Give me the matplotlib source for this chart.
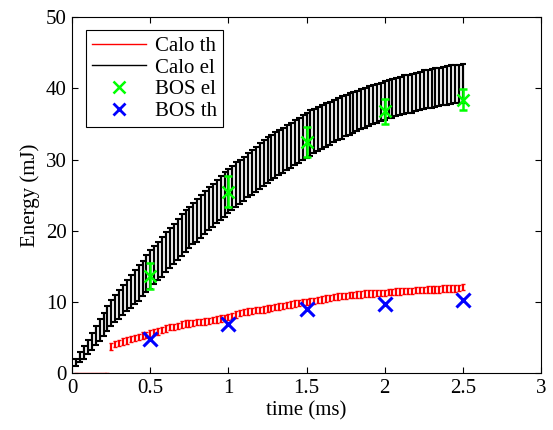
import numpy as np
import matplotlib
matplotlib.use("Agg")
import matplotlib.pyplot as plt
from matplotlib.lines import Line2D

plt.rcParams['font.family'] = ['Liberation Serif', 'DejaVu Serif']

# time grid of the calorimeter signals (ms), one sample every 0.025 ms
t_calo = np.round(np.arange(1, 101) * 0.025, 3)

# Calo el: centre values and half error (mJ)
calo_el = [1.6, 2.3, 3.0, 3.7, 4.5, 5.3, 6.1, 6.9, 7.7, 8.5,
           9.1, 9.7, 10.3, 10.9, 11.5, 12.1, 12.7, 13.3, 14.0, 14.6,
           15.2, 15.8, 16.4, 17.0, 17.6, 18.2, 18.8, 19.4, 20.0, 20.5,
           21.0, 21.5, 22.0, 22.6, 23.1, 23.6, 24.1, 24.6, 25.1, 25.6,
           26.0, 26.5, 26.9, 27.3, 27.8, 28.2, 28.6, 29.1, 29.5, 29.9,
           30.3, 30.6, 31.0, 31.3, 31.7, 32.0, 32.4, 32.7, 33.1, 33.4,
           33.7, 34.0, 34.3, 34.6, 34.9, 35.1, 35.4, 35.7, 35.9, 36.2,
           36.4, 36.6, 36.8, 37.1, 37.3, 37.5, 37.7, 37.9, 38.1, 38.3,
           38.5, 38.6, 38.8, 38.9, 39.1, 39.2, 39.3, 39.5, 39.6, 39.8,
           39.9, 40.0, 40.1, 40.2, 40.3, 40.4, 40.5, 40.6, 40.6, 40.7]
calo_el_err = [0.5, 0.7, 0.9, 1.0, 1.2, 1.3, 1.5, 1.6, 1.7, 1.8,
               1.9, 2.0, 2.1, 2.2, 2.3, 2.4, 2.5, 2.5, 2.6, 2.7,
               2.7, 2.7, 2.8, 2.8, 2.8, 2.8, 2.9, 2.9, 2.9, 2.9,
               2.9, 3.0, 3.0, 3.0, 3.0, 3.0, 3.0, 3.1, 3.1, 3.1,
               3.1, 3.1, 3.1, 3.1, 3.1, 3.1, 3.2, 3.2, 3.2, 3.2,
               3.2, 3.2, 3.2, 3.2, 3.2, 3.2, 3.2, 3.2, 3.2, 3.2,
               3.2, 3.1, 3.1, 3.1, 3.1, 3.0, 3.0, 3.0, 3.0, 2.9,
               2.9, 2.9, 2.8, 2.8, 2.8, 2.8, 2.7, 2.7, 2.7, 2.7,
               2.7, 2.7, 2.7, 2.7, 2.7, 2.7, 2.7, 2.7, 2.7, 2.7,
               2.7, 2.7, 2.7, 2.7, 2.7, 2.7, 2.7, 2.7, 2.7, 2.7]

# Calo th: centre values (mJ), flat at zero before 0.25 ms
calo_th = [0.0, 0.0, 0.0, 0.0, 0.0, 0.0, 0.0, 0.0, 0.0, 3.8,
           4.1, 4.3, 4.5, 4.6, 4.8, 5.0, 5.1, 5.3, 5.4, 5.6,
           5.8, 5.9, 6.1, 6.3, 6.5, 6.5, 6.7, 6.9, 7.0, 7.0,
           7.1, 7.2, 7.2, 7.3, 7.4, 7.5, 7.6, 7.7, 7.8, 7.9,
           8.1, 8.3, 8.5, 8.6, 8.7, 8.8, 8.9, 8.9, 9.0, 9.1,
           9.2, 9.3, 9.4, 9.5, 9.6, 9.7, 9.8, 9.9, 10.0, 10.0,
           10.1, 10.2, 10.3, 10.4, 10.5, 10.6, 10.7, 10.8, 10.9, 10.9,
           11.0, 11.0, 11.1, 11.1, 11.2, 11.2, 11.2, 11.3, 11.3, 11.3,
           11.4, 11.4, 11.5, 11.5, 11.6, 11.6, 11.6, 11.7, 11.7, 11.7,
           11.8, 11.8, 11.8, 11.8, 11.9, 11.9, 11.9, 11.9, 12.0, 12.1]
calo_th_err = [0.1] * 9 + [0.45] * 91

# BOS measurements
t_bos = [0.5, 1.0, 1.5, 2.0, 2.5]
bos_el = [13.7, 25.5, 32.5, 36.8, 38.4]
bos_el_err = [1.8, 2.2, 2.1, 1.75, 1.5]
bos_th = [4.9, 7.0, 9.1, 9.7, 10.3]

fig = plt.figure(figsize=(5.53, 4.30), dpi=100)
ax = fig.add_axes([0.1307, 0.1314, 0.8473, 0.8291])

ax.errorbar(t_calo, calo_el, yerr=calo_el_err, fmt='none', ecolor='black',
            elinewidth=1.6, capsize=2.0, capthick=1.5)
ax.errorbar(t_calo, calo_th, yerr=calo_th_err, fmt='none', ecolor='red',
            elinewidth=1.6, capsize=1.2, capthick=1.0)
ax.errorbar(t_bos, bos_el, yerr=bos_el_err, fmt='x', color='#00ff00',
            ecolor='#00ff00', markersize=9, markeredgewidth=1.8,
            elinewidth=1.8, capsize=2.8, capthick=1.8)
ax.plot(t_bos, bos_th, 'x', color='blue', markersize=10, markeredgewidth=2.2)

ax.set_xlim(0, 3)
ax.set_ylim(0, 50)
ax.set_xticks([0, 0.5, 1, 1.5, 2, 2.5, 3])
ax.set_xticklabels(['0', '0.5', '1', '1.5', '2', '2.5', '3'])
ax.set_yticks([0, 10, 20, 30, 40, 50])
ax.tick_params(direction='in', top=True, right=True, length=4, width=0.8,
               labelsize=15, pad=4)
for s in ax.spines.values():
    s.set_linewidth(0.8)
ax.set_xlabel('time (ms)', fontsize=15, labelpad=2)
ax.set_ylabel('Energy (mJ)', fontsize=15, labelpad=4)

handles = [Line2D([], [], color='red', lw=1.0),
           Line2D([], [], color='black', lw=1.0),
           Line2D([], [], ls='none', marker='x', color='#00ff00',
                  markersize=9, markeredgewidth=1.8),
           Line2D([], [], ls='none', marker='x', color='blue',
                  markersize=9, markeredgewidth=2.0)]
leg = ax.legend(handles, ['Calo th', 'Calo el', 'BOS el', 'BOS th'],
                loc='upper left', bbox_to_anchor=(0.029, 0.963),
                borderaxespad=0, fontsize=15, fancybox=False,
                edgecolor='black', framealpha=1, handlelength=2.6,
                labelspacing=0.1, borderpad=0.3, handletextpad=0.4)
leg.get_frame().set_linewidth(0.8)

fig.savefig('out.png', dpi=100)
